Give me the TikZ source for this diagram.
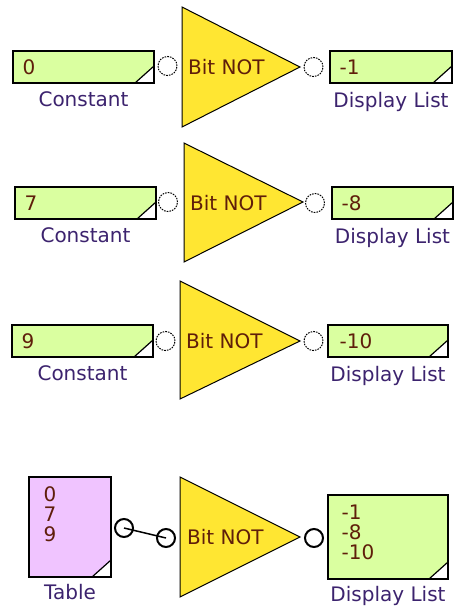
\documentclass[tikz,border=0pt]{standalone}
\usepackage{fontspec}
\setmainfont{DejaVu Sans}
\usetikzlibrary{positioning}
\definecolor{boxgreen}{RGB}{218,255,160}
\definecolor{tablepink}{RGB}{240,196,255}
\definecolor{gateyellow}{RGB}{255,230,50}
\definecolor{valred}{RGB}{95,30,10}
\definecolor{lblblue}{RGB}{60,35,110}

\begin{document}
\begin{tikzpicture}[x=1pt, y=-1pt, font=\fontsize{20}{20}\selectfont, box/.style={draw, line width=1.2pt, inner sep=0, minimum height=32, path picture={\fill[white] (path picture bounding box.south east) -- ++(-19,0) -- ++(19,-17) -- cycle; \draw (path picture bounding box.south east) ++(-19,0) -- ++(19,-17);}}, const/.style={box, fill=boxgreen}, tbl/.style={box, fill=tablepink}, gate/.style={draw, line width=1pt, fill=gateyellow}, gtext/.style={text=valred, inner sep=0}, pin/.style={circle, draw, line width=1pt, dash pattern=on 1.6pt off 1.1pt, minimum size=19, inner sep=0}, bpin/.style={circle, draw, line width=2pt, minimum size=18, inner sep=0}, val/.style={text=valred, inner sep=0, align=left}, lbl/.style={text=lblblue, inner sep=0}]
\useasboundingbox (0,0) rectangle (454,606);

% row 1
\node[const, minimum width=141] (c1) at (83.5,67) {}; \node[val, right=10pt of c1.west] {0}; \node[lbl, below=8pt of c1] {Constant};
\node[pin] (i1) at (167.5,66) {}; \draw[gate] (182,7) -- (300,67) -- (182,127) -- cycle; \coordinate (g1) at (182,67); \node[gtext, right=6pt of g1] {Bit NOT};
\node[pin] (o1) at (313.5,67) {}; \node[const, minimum width=122] (d1) at (391,67) {}; \node[val, right=10pt of d1.west] {-1}; \node[lbl, below=8pt of d1] {Display List};

% row 2
\node[const, minimum width=141] (c2) at (85.5,203) {}; \node[val, right=10pt of c2.west] {7}; \node[lbl, below=8pt of c2] {Constant};
\node[pin] (i2) at (168,202) {}; \draw[gate] (184,143) -- (303,202) -- (184,262) -- cycle; \coordinate (g2) at (184,203); \node[gtext, right=6pt of g2] {Bit NOT};
\node[pin] (o2) at (315,203) {}; \node[const, minimum width=121] (d2) at (392.5,203) {}; \node[val, right=10pt of d2.west] {-8}; \node[lbl, below=8pt of d2] {Display List};

% row 3
\node[const, minimum width=141] (c3) at (82.5,341) {}; \node[val, right=10pt of c3.west] {9}; \node[lbl, below=8pt of c3] {Constant};
\node[pin] (i3) at (165.5,341) {}; \draw[gate] (180,281) -- (300,341) -- (180,399) -- cycle; \coordinate (g3) at (180,341); \node[gtext, right=6pt of g3] {Bit NOT};
\node[pin] (o3) at (313.5,341) {}; \node[const, minimum width=120] (d3) at (388,341) {}; \node[val, right=12pt of d3.west] {-10}; \node[lbl, below=8pt of d3] {Display List};

% table row
\node[tbl, minimum width=82, minimum height=100] (t4) at (70,527) {}; \node[val, anchor=north west] at ([shift={(15,10)}]t4.north west) {0\\7\\9}; \node[lbl, below=6pt of t4] {Table};
\node[bpin] (to4) at (124,528) {}; \node[bpin] (i4) at (166,538) {}; \draw[line width=1.5pt] (to4.center) -- (i4.center);
\draw[gate] (180,477) -- (300,537) -- (180,597) -- cycle; \coordinate (g4) at (180,537); \node[gtext, right=7pt of g4] {Bit NOT};
\node[bpin] (o4) at (314,538) {}; \node[const, minimum width=120, minimum height=84] (d4) at (388,537) {}; \node[val, anchor=north west] at ([shift={(14,10)}]d4.north west) {-1\\-8\\-10}; \node[lbl, below=6pt of d4] {Display List};
\end{tikzpicture}
\end{document}
